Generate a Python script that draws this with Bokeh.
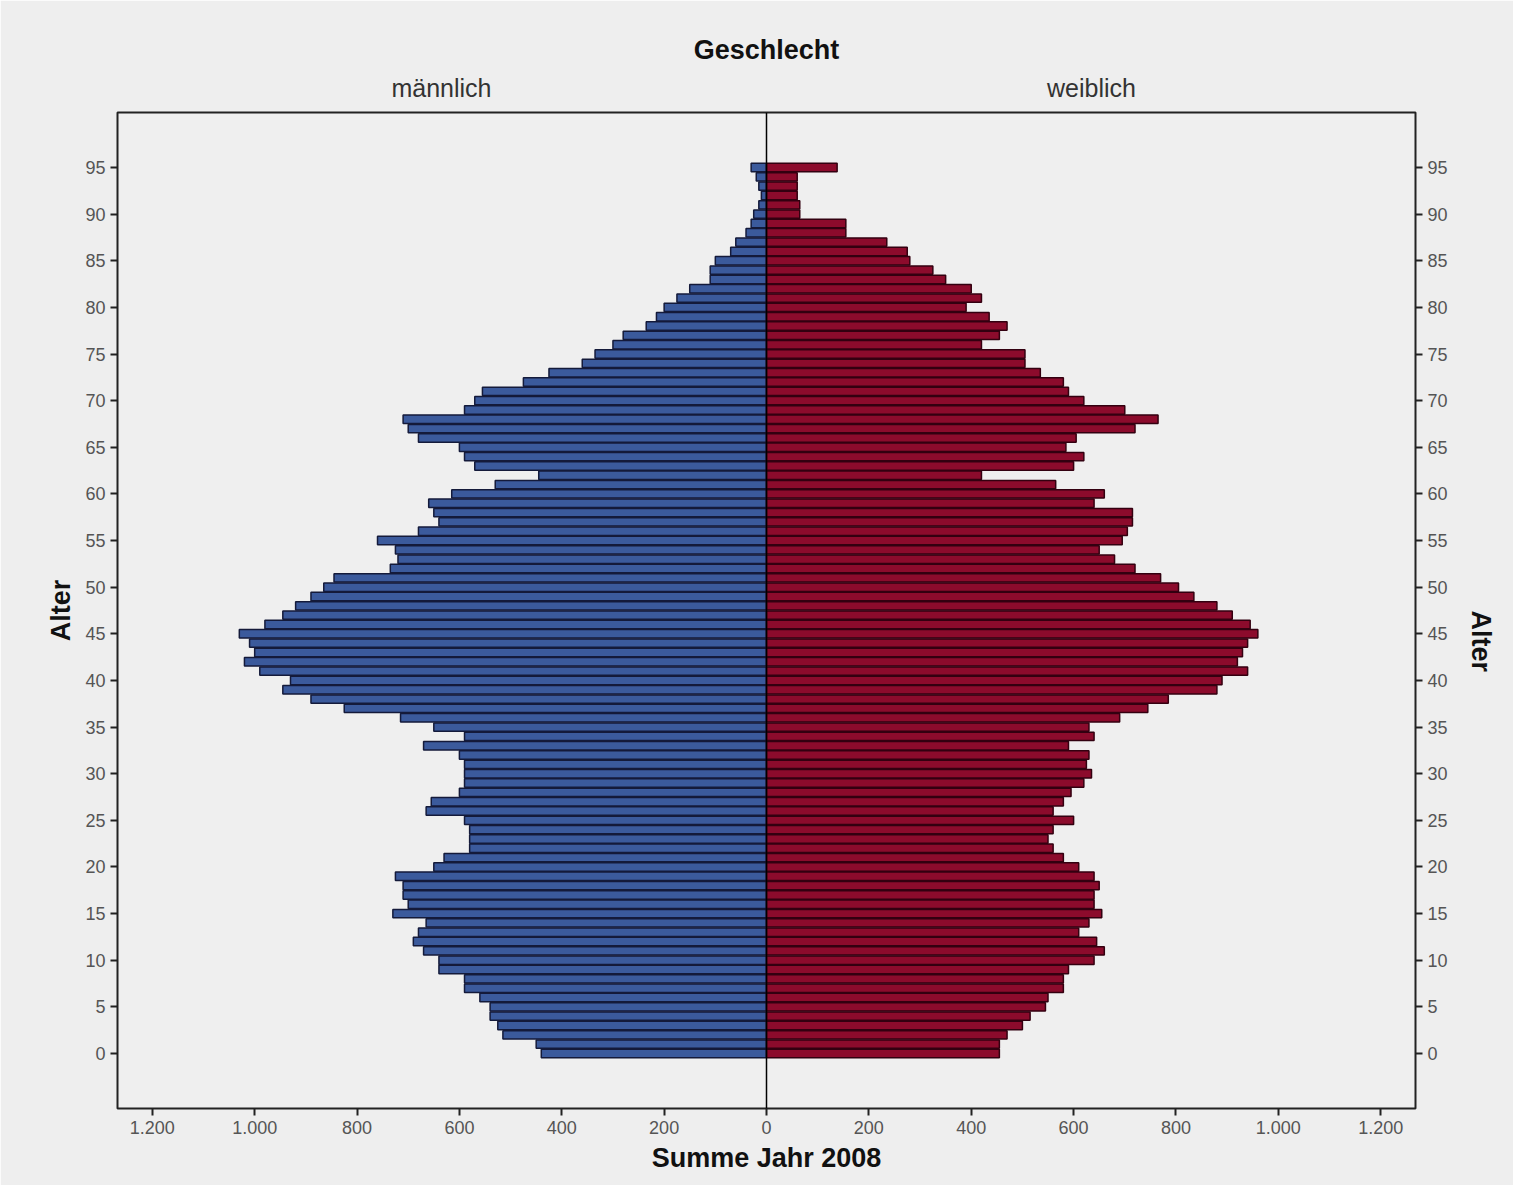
from bokeh.plotting import figure
from bokeh.models import LinearAxis, FixedTicker, Span
from bokeh.embed import file_html
from bokeh.resources import INLINE

ages = list(range(0, 96))
# values per age 0..95
male = [440, 450, 515, 525, 540, 540, 560, 590, 590, 640,
        640, 670, 690, 680, 665, 730, 700, 710, 710, 725,
        650, 630, 580, 580, 580, 590, 665, 655, 600, 590,
        590, 590, 600, 670, 590, 650, 715, 825, 890, 945,
        930, 990, 1020, 1000, 1010, 1030, 980, 945, 920, 890,
        865, 845, 735, 720, 725, 760, 680, 640, 650, 660,
        615, 530, 445, 570, 590, 600, 680, 700, 710, 590,
        570, 555, 475, 425, 360, 335, 300, 280, 235, 215,
        200, 175, 150, 110, 110, 100, 70, 60, 40, 30,
        25, 15, 10, 15, 20, 30]
female = [455, 455, 470, 500, 515, 545, 550, 580, 580, 590,
          640, 660, 645, 610, 630, 655, 640, 640, 650, 640,
          610, 580, 560, 550, 560, 600, 560, 580, 595, 620,
          635, 625, 630, 590, 640, 630, 690, 745, 785, 880,
          890, 940, 920, 930, 940, 960, 945, 910, 880, 835,
          805, 770, 720, 680, 650, 695, 705, 715, 715, 640,
          660, 565, 420, 600, 620, 585, 605, 720, 765, 700,
          620, 590, 580, 535, 505, 505, 420, 455, 470, 435,
          390, 420, 400, 350, 325, 280, 275, 235, 155, 155,
          65, 65, 60, 60, 60, 138]
x_ticks = [-1200, -1000, -800, -600, -400, -200, 0, 200, 400, 600, 800, 1000, 1200]
y_ticks = list(range(0, 100, 5))


def fmt(v):
    return f"{abs(v):,}".replace(",", ".")


FONT = "Liberation Sans"
p = figure(width=1513, height=1185, x_range=(-1268, 1268), y_range=(-5.9, 100.9),
           output_backend="svg", toolbar_location=None,
           background_fill_color="#efefef", border_fill_color="#eeeeee",
           min_border_left=117, min_border_right=88, min_border_top=112, min_border_bottom=77)
p.grid.visible = False
p.outline_line_color = "#222222"
p.outline_line_width = 2

p.hbar(y=ages, left=[-m for m in male], right=0, height=0.9,
       fill_color="#3b5a9c", line_color="#141a3a", line_width=1.5)
p.hbar(y=ages, left=0, right=female, height=0.9,
       fill_color="#8c0b2c", line_color="#330010", line_width=1.5)
p.add_layout(Span(location=0, dimension="height", line_color="black", line_width=1.5))

xa = p.xaxis[0]
xa.ticker = FixedTicker(ticks=x_ticks)
xa.major_label_overrides = {t: fmt(t) for t in x_ticks}
xa.axis_label = "Summe Jahr 2008"

ya = p.yaxis[0]
ya.ticker = FixedTicker(ticks=y_ticks)
ya.axis_label = "Alter"

yr = LinearAxis(ticker=FixedTicker(ticks=y_ticks), axis_label="Alter")
p.add_layout(yr, "right")

top = LinearAxis(ticker=FixedTicker(ticks=[-635, 635]), axis_label="Geschlecht",
                 major_label_overrides={-635: "männlich", 635: "weiblich"})
top.major_tick_line_color = None
top.minor_tick_line_color = None
top.axis_line_color = None
top.major_label_text_font_size = "25px"
top.major_label_text_color = "#333333"
p.add_layout(top, "above")

for ax in [xa, ya, yr, top]:
    ax.axis_label_text_font = FONT
    ax.major_label_text_font = FONT
    ax.axis_label_text_font_style = "bold"
    ax.axis_label_text_font_size = "27px"
    ax.axis_label_text_color = "#111111"
    ax.axis_label_standoff = 6
for ax in [xa, ya, yr]:
    ax.axis_line_color = None
    ax.minor_tick_line_color = None
    ax.major_tick_in = 0
    ax.major_tick_out = 7
    ax.major_tick_line_color = "#222222"
    ax.major_tick_line_width = 2
    ax.major_label_text_font_size = "18px"
    ax.major_label_text_color = "#555555"
yr.axis_label_orientation = 1.5708 * 3
yr.axis_label_standoff = 30

open("out.html", "w").write(file_html(p, INLINE))
